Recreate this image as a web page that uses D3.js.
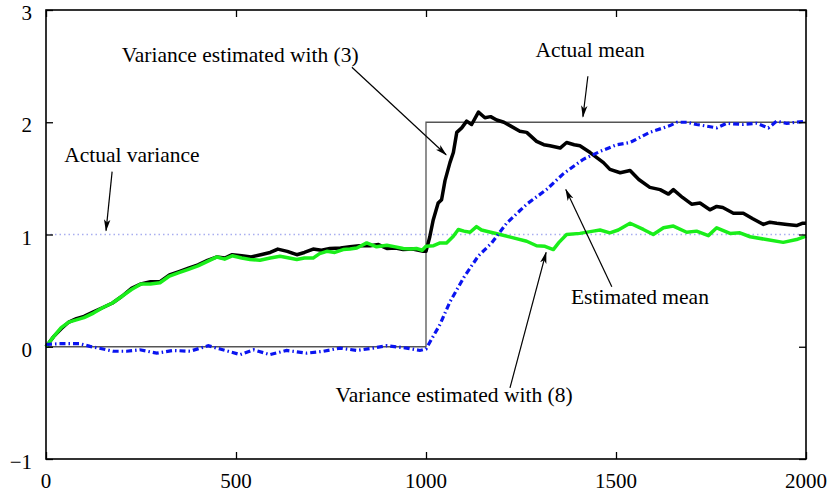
<!DOCTYPE html>
<html>
<head>
<meta charset="utf-8">
<script src="https://cdn.jsdelivr.net/npm/d3@7"></script>
<style>
  body { margin: 0; background: #fff; }
  text { font-family: "Liberation Serif", "DejaVu Serif", serif; fill: #000; }
</style>
</head>
<body>
<div id="chart"></div>
<script>
// actual mean / variance
const meanSteps = [[0, 0], [1000, 0], [1000, 2], [2000, 2]]
const actualVariance = [[0, 1], [2000, 1]]

// variance estimated with (3)
const var3T = [0, 20, 40, 60, 80, 100, 125, 150, 175, 200, 225, 250, 275, 300, 325, 350, 375, 400, 425, 450, 470, 490, 515, 540, 565, 590, 610, 635, 660, 680, 703, 725, 747, 775, 800, 825, 853, 875, 897, 920, 940, 965, 993, 1000,
  1010, 1019, 1032, 1041, 1050, 1063, 1072, 1081, 1094, 1107, 1120, 1138, 1155, 1170, 1186, 1205, 1221, 1247, 1265, 1291, 1310, 1326, 1353, 1370, 1390, 1405, 1432, 1467, 1484, 1511, 1537, 1560, 1589, 1616, 1638, 1651, 1675, 1699, 1721, 1747, 1765, 1781, 1809, 1835, 1860, 1888, 1905, 1923, 1950, 1975, 1990, 2000]
const var3V = [0, 0.09, 0.16, 0.22, 0.25, 0.27, 0.31, 0.35, 0.39, 0.45, 0.52, 0.56, 0.58, 0.58, 0.64, 0.67, 0.70, 0.73, 0.77, 0.80, 0.79, 0.82, 0.81, 0.80, 0.82, 0.84, 0.87, 0.85, 0.82, 0.84, 0.87, 0.86, 0.875, 0.88, 0.89, 0.90, 0.90, 0.91, 0.875, 0.88, 0.866, 0.87, 0.85, 0.85,
  0.98, 1.13, 1.28, 1.31, 1.48, 1.64, 1.73, 1.91, 1.95, 2.01, 1.98, 2.09, 2.04, 2.05, 2.02, 2.00, 1.97, 1.92, 1.91, 1.83, 1.80, 1.79, 1.77, 1.82, 1.80, 1.79, 1.73, 1.64, 1.58, 1.55, 1.57, 1.49, 1.42, 1.40, 1.36, 1.40, 1.33, 1.27, 1.28, 1.22, 1.25, 1.24, 1.19, 1.19, 1.14, 1.09, 1.11, 1.10, 1.09, 1.08, 1.10, 1.10]

// variance estimated with (8)
const var8T = [0, 20, 40, 60, 80, 100, 125, 150, 175, 200, 225, 250, 275, 300, 325, 350, 375, 400, 425, 450, 470, 490, 515, 537, 563, 590, 616, 640, 660, 680, 703, 720, 739, 760, 782, 800, 818, 844, 870, 897, 920, 940, 960, 975, 990, 1000,
  1020, 1037, 1054, 1072, 1085, 1100, 1116, 1133, 1146, 1170, 1195, 1230, 1265, 1291, 1313, 1335, 1350, 1370, 1405, 1440, 1458, 1484, 1506, 1537, 1572, 1598, 1625, 1651, 1686, 1712, 1743, 1765, 1800, 1826, 1853, 1896, 1940, 1975, 2000]
const var8V = [0, 0.09, 0.17, 0.22, 0.24, 0.26, 0.30, 0.35, 0.39, 0.45, 0.51, 0.56, 0.56, 0.57, 0.63, 0.66, 0.69, 0.72, 0.76, 0.80, 0.78, 0.81, 0.79, 0.777, 0.77, 0.79, 0.806, 0.79, 0.777, 0.79, 0.79, 0.83, 0.85, 0.84, 0.866, 0.87, 0.88, 0.925, 0.89, 0.905, 0.89, 0.875, 0.87, 0.875, 0.86, 0.895,
  0.90, 0.925, 0.925, 0.985, 1.045, 1.03, 1.02, 1.07, 1.04, 1.02, 1.00, 0.97, 0.94, 0.90, 0.895, 0.866, 0.93, 1.00, 1.01, 1.03, 1.04, 1.015, 1.04, 1.10, 1.045, 1.00, 1.06, 1.075, 1.02, 1.03, 0.99, 1.06, 1.01, 1.015, 0.98, 0.955, 0.93, 0.955, 0.985]

// estimated mean
const meanT = [0, 37, 89, 116, 150, 177, 212, 247, 291, 335, 379, 427, 458, 511, 546, 589, 633, 686, 730, 774, 818, 861, 897, 949, 984, 1000,
  1037, 1063, 1100, 1138, 1173, 1212, 1265, 1317, 1361, 1414, 1458, 1502, 1537, 1589, 1642, 1660, 1686, 1712, 1765, 1791, 1835, 1870, 1901, 1923, 1949, 1975, 2000]
const meanV = [0.02, 0.027, 0.027, 0.003, -0.02, -0.04, -0.04, -0.027, -0.057, -0.033, -0.04, 0.009, -0.02, -0.07, -0.027, -0.07, -0.033, -0.057, -0.04, -0.012, -0.033, -0.012, 0.009, -0.012, -0.033, -0.02,
  0.2, 0.40, 0.62, 0.81, 0.925, 1.10, 1.27, 1.40, 1.54, 1.67, 1.74, 1.80, 1.82, 1.91, 1.97, 2.0, 2.0, 1.98, 1.95, 1.99, 1.98, 1.99, 1.95, 2.01, 1.99, 2.0, 2.01]

const xTicks = [0, 500, 1000, 1500, 2000]
const yTicks = [-1, 0, 1, 2, 3]

// annotations: label, text position, arrow from, arrow to (data coords)
const notes = [
  { text: "Variance estimated with (3)", at: [511, 2.54], from: [805, 2.49], to: [1053, 1.71] },
  { text: "Actual mean", at: [1432, 2.58], from: [1426, 2.41], to: [1413, 2.05] },
  { text: "Actual variance", at: [226, 1.65], from: [174, 1.56], to: [158, 1.035] },
  { text: "Estimated mean", at: [1563, 0.38], from: [1489, 0.535], to: [1368, 1.40] },
  { text: "Variance estimated with (8)", at: [1074, -0.49], from: [1221, -0.366], to: [1316, 0.84] }
]

const width = 833, height = 494
const margin = { top: 10, right: 27, bottom: 35, left: 46 }

const svg = d3.select("#chart")
              .append("svg")
              .attr("width", width)
              .attr("height", height)

const x = d3.scaleLinear().domain([0, 2000]).range([margin.left, width - margin.right])
const y = d3.scaleLinear().domain([-1, 3]).range([height - margin.bottom, margin.top])

const line = d3.line().x(d => x(d[0])).y(d => y(d[1]))
const zip = (ts, vs) => ts.map((t, i) => [t, vs[i]])

svg.append("defs")
   .append("marker")
   .attr("id", "head")
   .attr("viewBox", "0 0 12 8")
   .attr("refX", 11)
   .attr("refY", 4)
   .attr("markerWidth", 12)
   .attr("markerHeight", 8)
   .attr("markerUnits", "userSpaceOnUse")
   .attr("orient", "auto")
   .append("path")
   .attr("d", "M0,0.8 L12,4 L0,7.2 L3,4 Z")
   .attr("fill", "#000")

// reference lines
svg.append("path")
   .attr("d", line(actualVariance))
   .attr("fill", "none")
   .attr("stroke", "#a9aef0")
   .attr("stroke-width", 1.3)
   .attr("stroke-dasharray", "1.5,3")

svg.append("path")
   .attr("d", line(meanSteps))
   .attr("fill", "none")
   .attr("stroke", "#555")
   .attr("stroke-width", 1.3)

// estimates
svg.append("path")
   .attr("d", line(zip(var3T, var3V)))
   .attr("fill", "none")
   .attr("stroke", "#000")
   .attr("stroke-width", 3.5)
   .attr("stroke-linejoin", "round")

svg.append("path")
   .attr("d", line(zip(var8T, var8V)))
   .attr("fill", "none")
   .attr("stroke", "#1aee1a")
   .attr("stroke-width", 3.5)
   .attr("stroke-linejoin", "round")

svg.append("path")
   .attr("d", line(zip(meanT, meanV)))
   .attr("fill", "none")
   .attr("stroke", "#0a14f0")
   .attr("stroke-width", 3.2)
   .attr("stroke-dasharray", "6,3,1.5,3")

// frame and ticks
const tl = 7
svg.append("rect")
   .attr("x", x(0)).attr("y", y(3))
   .attr("width", x(2000) - x(0)).attr("height", y(-1) - y(3))
   .attr("fill", "none").attr("stroke", "#000").attr("stroke-width", 1.6)

svg.append("g").attr("transform", `translate(0,${y(-1)})`)
   .call(d3.axisBottom(x).tickValues(xTicks).tickSize(-tl).tickSizeOuter(0).tickFormat(""))
svg.append("g").attr("transform", `translate(0,${y(3)})`)
   .call(d3.axisTop(x).tickValues(xTicks).tickSize(-tl).tickSizeOuter(0).tickFormat(""))
svg.append("g").attr("transform", `translate(${x(0)},0)`)
   .call(d3.axisLeft(y).tickValues(yTicks).tickSize(-tl).tickSizeOuter(0).tickFormat(""))
svg.append("g").attr("transform", `translate(${x(2000)},0)`)
   .call(d3.axisRight(y).tickValues(yTicks).tickSize(-tl).tickSizeOuter(0).tickFormat(""))
svg.selectAll(".domain").remove()
svg.selectAll(".tick line").attr("stroke", "#000").attr("stroke-width", 1.3)

svg.append("g").selectAll("text")
   .data(xTicks).enter()
   .append("text")
   .attr("x", d => x(d))
   .attr("y", y(-1) + 29)
   .attr("text-anchor", "middle")
   .attr("font-size", 21)
   .text(d => d)

svg.append("g").selectAll("text")
   .data(yTicks).enter()
   .append("text")
   .attr("x", x(0) - 14)
   .attr("y", d => y(d) + 10)
   .attr("text-anchor", "end")
   .attr("font-size", 21)
   .text(d => d < 0 ? "\u2212" + Math.abs(d) : d)

// annotations
const ann = svg.append("g")
ann.selectAll("line")
   .data(notes).enter()
   .append("line")
   .attr("x1", d => x(d.from[0])).attr("y1", d => y(d.from[1]))
   .attr("x2", d => x(d.to[0])).attr("y2", d => y(d.to[1]))
   .attr("stroke", "#000")
   .attr("stroke-width", 1.2)
   .attr("marker-end", "url(#head)")

ann.selectAll("text")
   .data(notes).enter()
   .append("text")
   .attr("x", d => x(d.at[0]))
   .attr("y", d => y(d.at[1]))
   .attr("text-anchor", "middle")
   .attr("font-size", 21.5)
   .text(d => d.text)
</script>
</body>
</html>
